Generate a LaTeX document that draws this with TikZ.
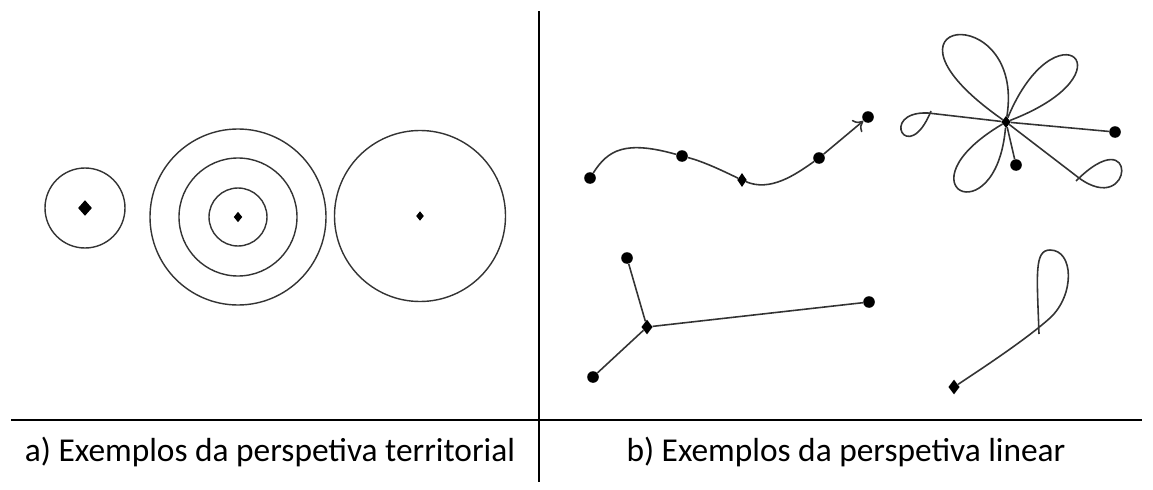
\documentclass[tikz,border=0pt]{standalone}
\usepackage{fontspec}
\setmainfont{Carlito}
\usetikzlibrary{shapes.geometric,arrows.meta}
\definecolor{ink}{HTML}{000000}
\definecolor{pen}{HTML}{333333}

\begin{document}
\begin{tikzpicture}[x=0.02cm,y=-0.02cm,font=\fontsize{19}{23}\selectfont,
    dot/.style={circle,fill=ink,inner sep=0pt,minimum size=6.6pt},
    gem/.style={diamond,fill=ink,inner sep=0pt,minimum width=5pt,minimum height=6pt},
    trail/.style={pen,line width=0.9pt},
    ring/.style={pen,line width=0.8pt}]
  \useasboundingbox (0,0) rectangle (1153,490);
  % frame
  \draw[ink,line width=1.4pt] (11,420) -- (1142,420);
  \draw[ink,line width=1.4pt] (539,11) -- (539,482);
  \node (capa) at (270,452) {a) Exemplos da perspetiva territorial};
  \node (capb) at (846,452) {b) Exemplos da perspetiva linear};
  % territorial
  \node[gem,minimum width=8pt,minimum height=9pt] (t1) at (85,208) {};
  \draw[ring] (t1.center) circle (40);
  \node[gem] (t2) at (238,217) {};
  \foreach \r in {29,59,88}
    \draw[ring] (t2.center) circle (\r);
  \node[gem,minimum width=4.5pt,minimum height=5.5pt] (t3) at (420,216) {};
  \draw[ring] (t3.center) circle (85.5);
  % linear: path with arrow
  \node[dot] (p1) at (590,178) {};
  \node[dot] (p2) at (682,156) {};
  \node[gem,minimum width=5.5pt,minimum height=8pt] (p3) at (742,180) {};
  \node[dot] (p4) at (819,158) {};
  \node[dot] (p5) at (868,117) {};
  \draw[trail] (p1) .. controls (608,150) and (625,140) .. (p2);
  \draw[trail] (p2) .. controls (705,162) and (725,172) .. (p3);
  \draw[trail] (p3) .. controls (770,192) and (795,175) .. (p4);
  \draw[trail,-{To[length=5pt,width=9pt]}] (p4) -- (p5);
  % linear: loops around a centre
  \node[gem,minimum width=5.5pt,minimum height=7pt] (f0) at (1006,122) {};
  \node[dot] (f1) at (1115,132) {};
  \node[dot] (f2) at (1016,165) {};
  \coordinate (fx) at (928,113);
  \coordinate (fy) at (1079,178);
  \draw[trail] (f0) -- (f1);
  \draw[trail] (f0) -- (f2);
  \draw[trail] (f0) .. controls (856,17) and (1026,-3) .. (f0);
  \draw[trail] (f0) .. controls (1056,2) and (1136,72) .. (f0);
  \draw[trail] (f0) .. controls (896,187) and (996,237) .. (f0);
  \draw[trail] (f0) -- (fx) .. controls (878,111) and (908,168) .. (931,111);
  \draw[trail] (f0) -- (fy) .. controls (1134,218) and (1139,118) .. (1076,181);
  % linear: star
  \node[gem,minimum width=6.5pt,minimum height=8.5pt] (q0) at (647,327) {};
  \node[dot] (q1) at (627,258) {};
  \node[dot] (q2) at (593,377) {};
  \node[dot] (q3) at (869,302) {};
  \draw[trail] (q0) -- (q1);
  \draw[trail] (q0) -- (q2);
  \draw[trail] (q0) -- (q3);
  % linear: single loop
  \node[gem,minimum width=6.5pt,minimum height=8.5pt] (r0) at (954,387) {};
  \coordinate (r1) at (1039,334);
  \draw[trail] (r0) .. controls (995,360) and (1030,336) .. (1050,318)
    .. controls (1075,295) and (1074,250) .. (1050,250)
    .. controls (1034,250) and (1037,275) .. (r1);
\end{tikzpicture}
\end{document}
